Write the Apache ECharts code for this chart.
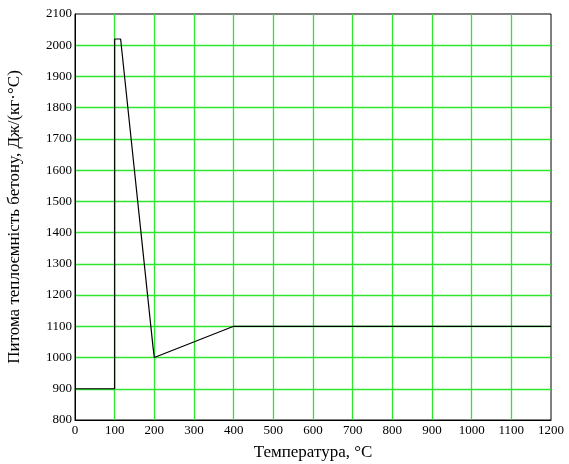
<!DOCTYPE html>
<html>
<head>
<meta charset="utf-8">
<script src="https://cdn.jsdelivr.net/npm/echarts@6/dist/echarts.min.js"></script>
<style>
  html, body { margin: 0; padding: 0; background: #fff; }
  #chart { width: 569px; height: 464px; }
</style>
</head>
<body>
<div id="chart"></div>
<script>
// температура, °C
var temps = [0, 100, 100, 115, 197, 200, 400, 1200];
// питома теплоємність, Дж/(кг·°С)
var capacity = [900, 900, 2020, 2020, 1030, 1000, 1100, 1100];

var font = 'Liberation Serif';
var points = temps.map(function(t, i) { return [t, capacity[i]]; });
var plain = function(v) { return String(v); };

var chart = echarts.init(document.getElementById('chart'));
chart.setOption({
    animation: false,
    grid: { left: 75, right: 18, top: 14, bottom: 44, outerBoundsMode: 'none', show: true, borderColor: '#000', borderWidth: 1 },
    xAxis: {
        type: 'value',
        min: 0, max: 1200, interval: 100,
        name: 'Температура, °C',
        nameLocation: 'middle',
        nameGap: 24,
        nameTextStyle: { fontFamily: font, fontSize: 17, color: '#000' },
        axisLine: { show: true, onZero: false, lineStyle: { color: '#000' } },
        axisTick: { show: false },
        axisLabel: { fontFamily: font, fontSize: 13, color: '#000', margin: 4, formatter: plain },
        splitLine: { show: true, showMinLine: false, showMaxLine: false, lineStyle: { color: '#2ee62e', width: 1.3 } }
    },
    yAxis: {
        type: 'value',
        min: 800, max: 2100, interval: 100,
        name: 'Питома теплоємність бетону, Дж/(кг·°С)',
        nameLocation: 'middle',
        nameGap: 52,
        nameTextStyle: { fontFamily: font, fontSize: 17, color: '#000' },
        axisLine: { show: true, lineStyle: { color: '#000' } },
        axisTick: { show: false },
        axisLabel: { fontFamily: font, fontSize: 13, color: '#000', margin: 3, formatter: plain },
        splitLine: { show: true, showMinLine: false, showMaxLine: false, lineStyle: { color: '#2ee62e', width: 1.3 } }
    },
    series: [{
        type: 'line',
        data: points,
        showSymbol: false,
        lineStyle: { color: '#000', width: 1.2 }
    }]
});
</script>
</body>
</html>
